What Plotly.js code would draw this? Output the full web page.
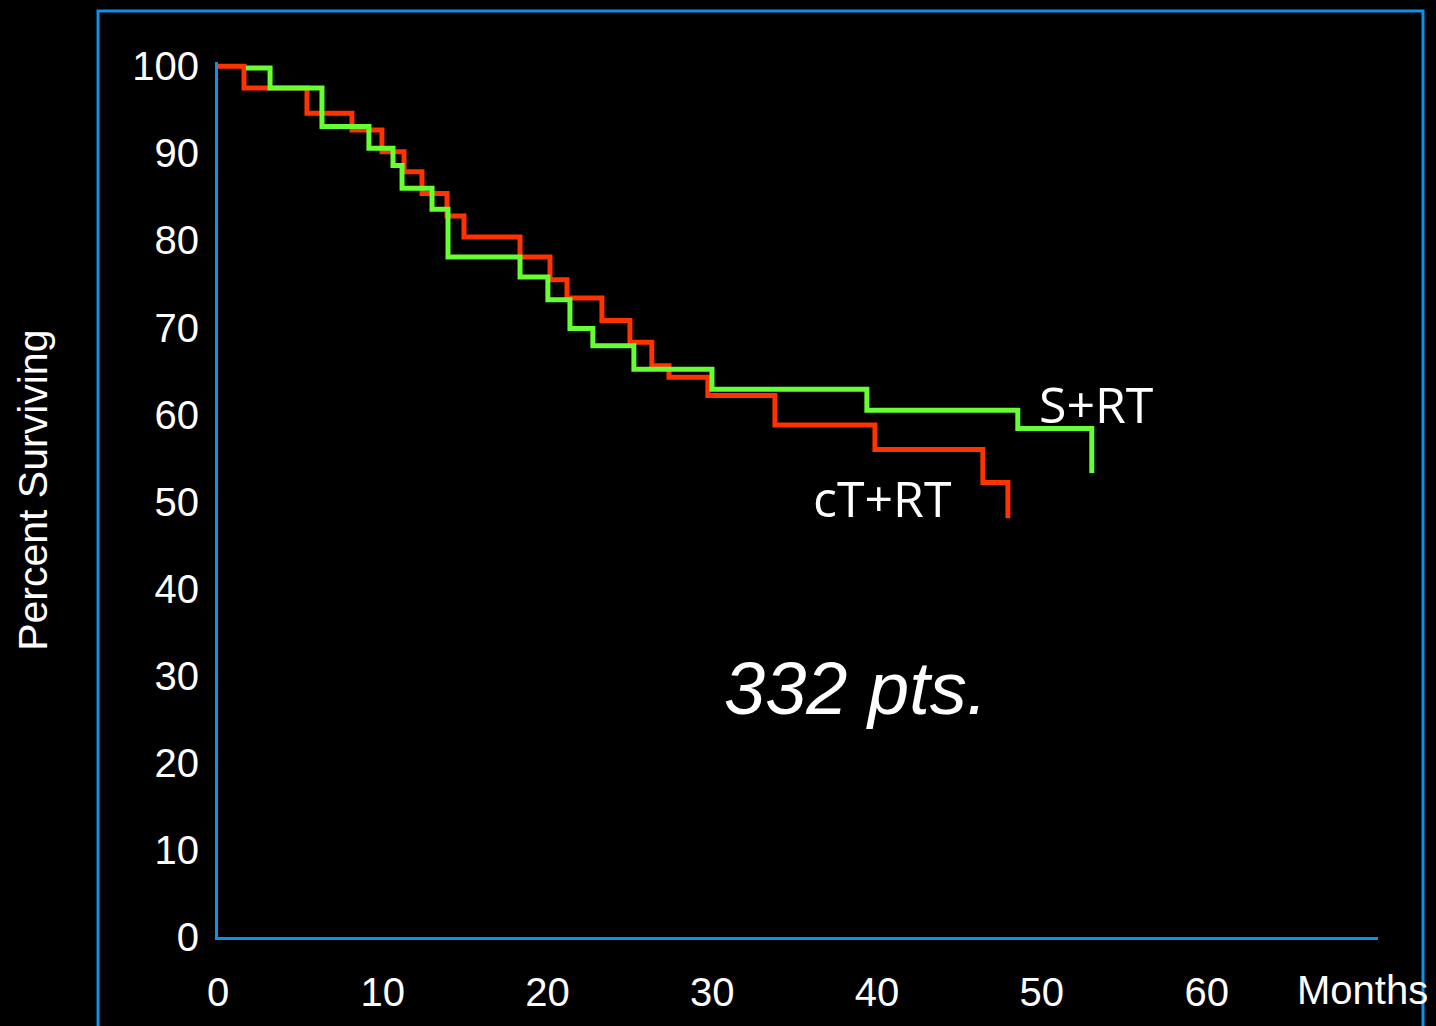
<!DOCTYPE html>
<html>
<head>
<meta charset="utf-8">
<script src="https://cdn.plot.ly/plotly-3.0.1.min.js"></script>
<style>html,body{margin:0;padding:0;background:#000;}#chart{width:1436px;height:1026px;}</style>
</head>
<body>
<div id="chart"></div>
<script>
// Kaplan-Meier style step data (months, percent surviving)
const ctrtMonths = [0, 1.58, 5.40, 8.13, 9.95, 11.29, 12.38, 13.90, 14.93, 18.33, 20.15, 21.18, 23.30, 25.00, 26.33, 27.37, 29.73, 33.80, 39.87, 46.42, 47.94];
const ctrtPct    = [100, 97.5, 94.6, 92.7, 90.2, 87.9, 85.4, 82.8, 80.4, 78.1, 75.5, 73.4, 70.8, 68.3, 65.6, 64.3, 62.2, 58.8, 56.0, 52.2, 48.1];
const srtMonths  = [1.70, 3.16, 6.31, 9.16, 10.62, 11.17, 12.99, 13.96, 18.33, 20.02, 21.36, 22.75, 25.24, 29.98, 39.38, 48.54, 53.03];
const srtPct     = [99.8, 97.5, 93.1, 90.6, 88.6, 86.0, 83.6, 78.1, 75.8, 73.2, 69.9, 67.9, 65.2, 62.9, 60.5, 58.4, 53.3];
const xTicks = [0, 10, 20, 30, 40, 50, 60];
const yTicks = [0, 10, 20, 30, 40, 50, 60, 70, 80, 90, 100];

const blue = '#0b93ec';
const traces = [
  {x: ctrtMonths, y: ctrtPct, type: 'scatter', mode: 'lines', name: 'cT+RT',
   line: {color: '#ff3300', width: 5, shape: 'hv'}},
  {x: srtMonths, y: srtPct, type: 'scatter', mode: 'lines', name: 'S+RT',
   line: {color: '#66ff33', width: 5, shape: 'hv'}}
];

const layout = {
  width: 1436, height: 1026,
  paper_bgcolor: '#000', plot_bgcolor: '#000',
  showlegend: false,
  margin: {l: 218, r: 58, t: 62, b: 89},
  font: {family: 'Liberation Sans, Arial, sans-serif', color: '#fff', size: 40},
  xaxis: {range: [0, 70.4], tickvals: xTicks, ticktext: xTicks.map(String),
          showgrid: false, zeroline: false, showline: true, linecolor: blue, linewidth: 3,
          ticks: '', ticklabelstandoff: 18, tickfont: {size: 40, color: '#fff'}, fixedrange: true},
  yaxis: {range: [0, 100.5], tickvals: yTicks, ticktext: yTicks.map(String),
          showgrid: false, zeroline: false, showline: true, linecolor: blue, linewidth: 3,
          ticks: '', ticklabelstandoff: 8, tickfont: {size: 40, color: '#fff'}, fixedrange: true},
  shapes: [
    {type: 'rect', xref: 'paper', yref: 'paper', x0: -0.1034, x1: 1.0388, y0: -0.2, y1: 1.0583,
     line: {color: blue, width: 3}, fillcolor: 'rgba(0,0,0,0)', layer: 'below'}
  ],
  annotations: [
    {xref: 'paper', yref: 'paper', x: -0.1595, y: 0.511, xanchor: 'center', yanchor: 'middle',
     text: 'Percent Surviving', textangle: -90,
     showarrow: false, font: {size: 41, color: '#fff', family: 'Liberation Sans, Arial, sans-serif'}},
    {xref: 'paper', yref: 'paper', x: 0.987, y: -0.0606, xanchor: 'center', yanchor: 'middle',
     text: 'Months',
     showarrow: false, font: {size: 40, color: '#fff', family: 'Liberation Sans, Arial, sans-serif'}},
    {xref: 'x', yref: 'y', x: 53.3, y: 61.2, xanchor: 'center', yanchor: 'middle', text: 'S+RT', showarrow: false,
     font: {size: 50, color: '#fff', family: 'Open Sans, sans-serif'}},
    {xref: 'x', yref: 'y', x: 40.3, y: 50.4, xanchor: 'center', yanchor: 'middle', text: 'cT+RT', showarrow: false,
     font: {size: 50, color: '#fff', family: 'Open Sans, sans-serif'}},
    {xref: 'x', yref: 'y', x: 38.7, y: 28.6, xanchor: 'center', yanchor: 'middle', text: '<i>332 pts.</i>', showarrow: false,
     font: {size: 74, color: '#fff', family: 'Liberation Sans, Arial, sans-serif'}}
  ]
};

Plotly.newPlot('chart', traces, layout, {displayModeBar: false, staticPlot: true});
</script>
</body>
</html>
